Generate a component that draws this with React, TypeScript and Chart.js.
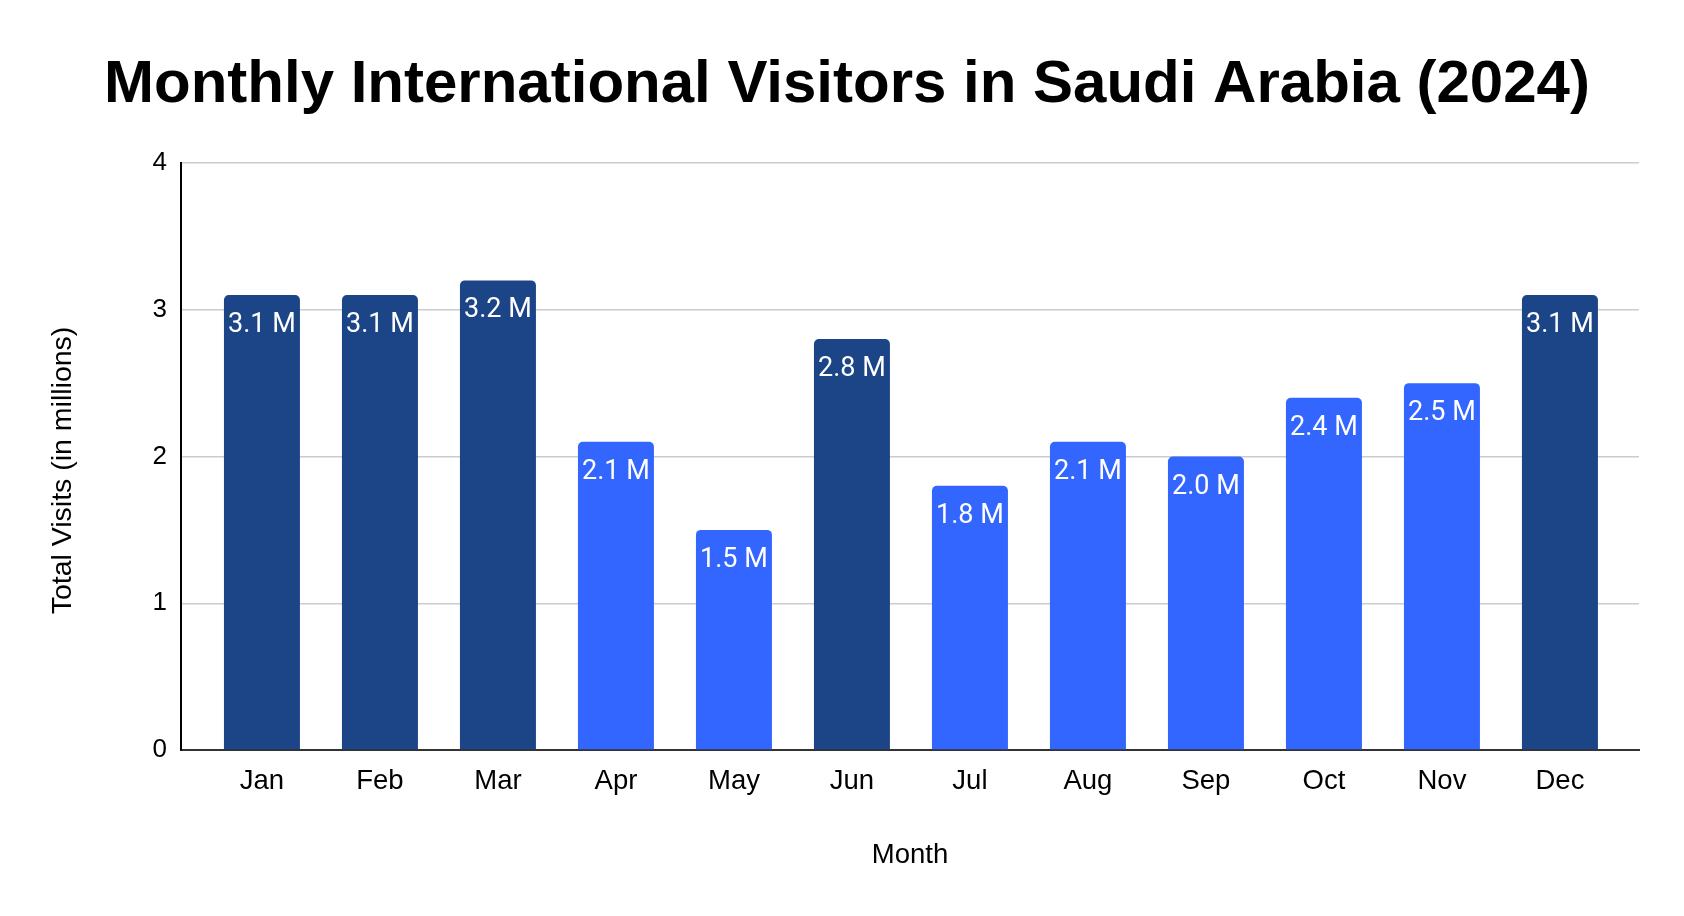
import { useEffect, useRef } from "react";
import { Chart, registerables } from "chart.js";

Chart.register(...registerables);

const months = ["Jan", "Feb", "Mar", "Apr", "May", "Jun", "Jul", "Aug", "Sep", "Oct", "Nov", "Dec"];
const visitors = [3.1, 3.1, 3.2, 2.1, 1.5, 2.8, 1.8, 2.1, 2.0, 2.4, 2.5, 3.1];
const peakMonths = ["Jan", "Feb", "Mar", "Jun", "Dec"];
const yTickValues = [0, 1, 2, 3, 4];
const chartTitle = "Monthly International Visitors in Saudi Arabia (2024)";
const xAxisTitle = "Month";
const yAxisTitle = "Total Visits (in millions)";
const valueSuffix = " M";

const DARK = "#1c4587";
const BRIGHT = "#3366ff";
const SANS = "'Liberation Sans', Arial, sans-serif";

const barLabelPlugin = {
  id: "barLabels",
  afterDatasetsDraw(chart: any) {
    const ctx = chart.ctx;
    const meta = chart.getDatasetMeta(0);
    ctx.save();
    ctx.font = "27px Roboto";
    ctx.fillStyle = "#ffffff";
    ctx.textAlign = "center";
    ctx.textBaseline = "alphabetic";
    meta.data.forEach((bar: any, i: number) => {
      ctx.fillText(visitors[i].toFixed(1) + valueSuffix, bar.x, bar.y + 37);
    });
    ctx.restore();
  },
};

const yTitlePlugin = {
  id: "yTitle",
  afterDraw(chart: any) {
    const ctx = chart.ctx;
    const area = chart.chartArea;
    const yScale = chart.scales.y;
    ctx.save();
    ctx.translate(yScale.left + 53, (area.top + area.bottom) / 2 + 14);
    ctx.rotate(-Math.PI / 2);
    ctx.font = "28.5px " + SANS;
    ctx.fillStyle = "#000";
    ctx.textAlign = "center";
    ctx.textBaseline = "middle";
    ctx.fillText(yAxisTitle, 0, 0);
    ctx.restore();
  },
};

export default function App() {
  const canvasRef = useRef<HTMLCanvasElement | null>(null);

  useEffect(() => {
    document.body.style.margin = "0";
    const canvas = canvasRef.current;
    if (!canvas) return;
    const colors = months.map((m) => (peakMonths.includes(m) ? DARK : BRIGHT));
    const chart = new Chart(canvas, {
      type: "bar",
      data: {
        datasets: [
          {
            data: visitors.map((v, i) => ({ x: i, y: v })),
            backgroundColor: colors,
            borderRadius: 5,
            borderSkipped: "start",
            barPercentage: 0.644,
            categoryPercentage: 1,
          },
        ],
      },
      options: {
        responsive: false,
        animation: false,
        layout: { padding: { left: 10, right: 0, top: 0, bottom: 0 } },
        plugins: {
          legend: { display: false },
          tooltip: { enabled: false },
          title: {
            display: true,
            text: chartTitle,
            color: "#000",
            font: { family: SANS, size: 60, weight: "bold" },
            padding: { top: 49, bottom: 42 },
          },
        },
        scales: {
          x: {
            type: "linear",
            min: -0.686,
            max: 11.67,
            offset: false,
            grid: { display: false, drawTicks: false },
            border: { display: true, color: "#333333", width: 2 },
            afterBuildTicks: (s: any) => {
              s.ticks = months.map((_, i) => ({ value: i }));
            },
            ticks: {
              autoSkip: false,
              maxRotation: 0,
              padding: 15,
              color: "#000",
              font: { family: SANS, size: 27.5 },
              callback: (v: any) => months[v] ?? "",
            },
            title: {
              display: true,
              text: xAxisTitle,
              color: "#000",
              font: { family: SANS, size: 27.5 },
              padding: { top: 0, bottom: 44 },
            },
            afterFit: (s: any) => {
              s.height = 166;
            },
          },
          y: {
            type: "linear",
            min: yTickValues[0],
            max: yTickValues[yTickValues.length - 1],
            afterBuildTicks: (s: any) => {
              s.ticks = yTickValues.map((v) => ({ value: v }));
            },
            grid: { color: "#cccccc", lineWidth: 1.5, drawTicks: false },
            border: { display: true, color: "#000000", width: 2 },
            ticks: {
              padding: 14,
              color: "#000",
              font: { family: SANS, size: 26 },
            },
            title: { display: false },
            afterFit: (s: any) => {
              s.width = 171;
            },
          },
          spacer: {
            type: "linear",
            position: "right",
            display: true,
            grid: { display: false },
            border: { display: false },
            ticks: { display: false },
            afterFit: (s: any) => {
              s.width = 45;
            },
          },
        },
      } as any,
      plugins: [barLabelPlugin, yTitlePlugin],
    });
    return () => chart.destroy();
  }, []);

  return (
    <div style={{ width: 1684, height: 916, background: "#fff" }}>
      <canvas ref={canvasRef} width={1684} height={916} style={{ display: "block" }} />
    </div>
  );
}
